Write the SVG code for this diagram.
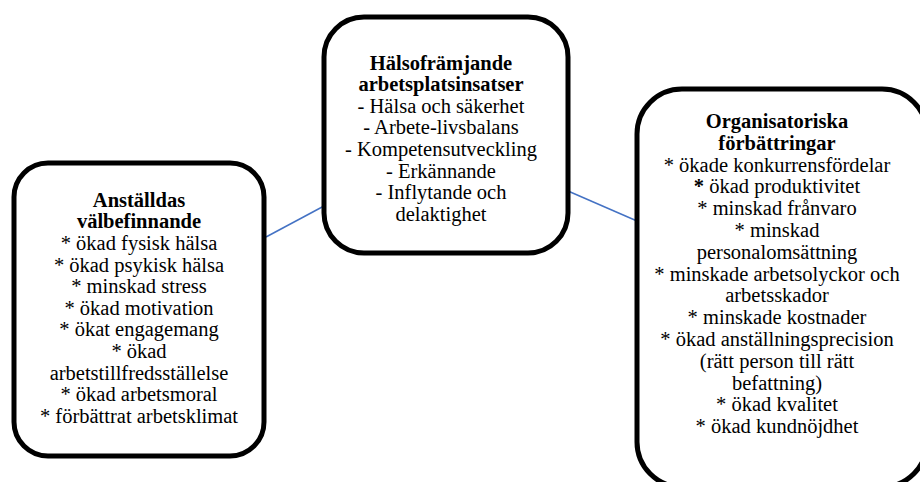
<svg xmlns="http://www.w3.org/2000/svg" width="920" height="482" viewBox="0 0 920 482">
<style>
.box{fill:#fff;stroke:#000;stroke-width:5}
.conn{stroke:#4472C4;stroke-width:1.5;fill:none}
.t{font-family:'Liberation Serif','Times New Roman',Times,'DejaVu Serif',serif;font-size:20.5px;fill:#000;text-anchor:middle}
.b{font-weight:bold}
</style>
<rect width="920" height="482" fill="#fff"/>
<g id="connectors">
<line class="conn" x1="266" y1="237" x2="324" y2="206"/>
<line class="conn" x1="568" y1="191" x2="637" y2="221"/>
</g>
<g id="node-left">
<rect class="box" x="14" y="163" width="250" height="293" rx="34"/>
<text class="t" x="139" y="206.7"><tspan class="b">Anställdas</tspan><tspan x="139" dy="21.6" class="b">välbefinnande</tspan><tspan x="139" dy="21.6">* ökad fysisk hälsa</tspan><tspan x="139" dy="21.6">* ökad psykisk hälsa</tspan><tspan x="139" dy="21.6">* minskad stress</tspan><tspan x="139" dy="21.6">* ökad motivation</tspan><tspan x="139" dy="21.6">* ökat engagemang</tspan><tspan x="139" dy="21.6">* ökad</tspan><tspan x="139" dy="21.6">arbetstillfredsställelse</tspan><tspan x="139" dy="21.6">* ökad arbetsmoral</tspan><tspan x="139" dy="21.6">* förbättrat arbetsklimat</tspan></text>
</g>
<g id="node-center">
<rect class="box" x="324" y="17" width="244" height="236" rx="40"/>
<text class="t" x="441" y="69.5"><tspan class="b">Hälsofrämjande</tspan><tspan x="441" dy="21.6" class="b">arbetsplatsinsatser</tspan><tspan x="441" dy="21.6">- Hälsa och säkerhet</tspan><tspan x="441" dy="21.6">- Arbete-livsbalans</tspan><tspan x="441" dy="21.6">- Kompetensutveckling</tspan><tspan x="441" dy="21.6">- Erkännande</tspan><tspan x="441" dy="21.6">- Inflytande och</tspan><tspan x="441" dy="21.6">delaktighet</tspan></text>
</g>
<g id="node-right">
<rect class="box" x="637" y="89" width="290" height="398" rx="45"/>
<text class="t" x="777" y="128"><tspan class="b">Organisatoriska</tspan><tspan x="777" dy="21.8" class="b">förbättringar</tspan><tspan x="777" dy="21.8">* ökade konkurrensfördelar</tspan><tspan x="777" dy="21.8"><tspan class="b">*</tspan> ökad produktivitet</tspan><tspan x="777" dy="21.8">* minskad frånvaro</tspan><tspan x="777" dy="21.8">* minskad</tspan><tspan x="777" dy="21.8">personalomsättning</tspan><tspan x="777" dy="21.8">* minskade arbetsolyckor och</tspan><tspan x="777" dy="21.8">arbetsskador</tspan><tspan x="777" dy="21.8">* minskade kostnader</tspan><tspan x="777" dy="21.8">* ökad anställningsprecision</tspan><tspan x="777" dy="21.8">(rätt person till rätt</tspan><tspan x="777" dy="21.8">befattning)</tspan><tspan x="777" dy="21.8">* ökad kvalitet</tspan><tspan x="777" dy="21.8">* ökad kundnöjdhet</tspan></text>
</g>
</svg>
